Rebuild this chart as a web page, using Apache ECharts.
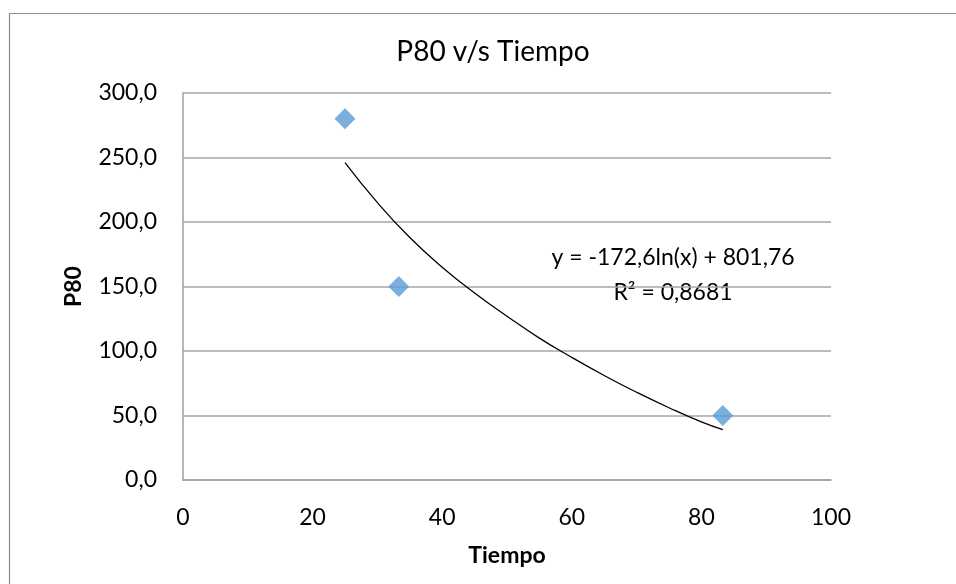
<!DOCTYPE html>
<html>
<head>
<meta charset="utf-8">
<script src="https://cdn.jsdelivr.net/npm/echarts@6/dist/echarts.min.js"></script>
<style>
html,body{margin:0;padding:0;background:#fff;}
#c{width:956px;height:584px;}
</style>
</head>
<body>
<div id="c"></div>
<script>
// Data
var tiempo = [25, 33.3, 83.3];
var p80 = [280, 150, 50];
// Trendline (logarithmic)
var trendX = [25, 30, 35, 40, 45, 50, 55, 60, 65, 70, 75, 80, 83.3];
var trendY = [246, 215, 188, 165, 145, 127, 110, 95, 81, 68, 56, 45, 39];
var xTicks = [0, 20, 40, 60, 80, 100];
var yTicks = [0, 50, 100, 150, 200, 250, 300];
var titleText = 'P80 v/s Tiempo';
var eqText = 'y = -172,6ln(x) + 801,76';
var r2Text = 'R² = 0,8681';

var FONT = 'Lato';
var chart = echarts.init(document.getElementById('c'), null, {renderer: 'canvas'});
chart.setOption({
  animation: false,
  backgroundColor: '#ffffff',
  title: {
    text: titleText,
    left: 488, top: 33,
    textAlign: 'center',
    textStyle: {fontFamily: FONT, fontSize: 28, fontWeight: 'normal', color: '#000'}
  },
  grid: {left: 183, right: 125, top: 93, bottom: 104, containLabel: false},
  xAxis: {
    type: 'value', min: xTicks[0], max: xTicks[xTicks.length - 1], interval: 20,
    name: 'Tiempo', nameLocation: 'middle', nameGap: 64,
    nameTextStyle: {fontFamily: FONT, fontSize: 23, fontWeight: 'bold', color: '#000'},
    axisLine: {show: true, lineStyle: {color: '#a0a0a0', width: 1.5}},
    axisTick: {show: false},
    splitLine: {show: false},
    axisLabel: {fontFamily: FONT, fontSize: 23, color: '#000', margin: 26}
  },
  yAxis: {
    type: 'value', min: yTicks[0], max: yTicks[yTicks.length - 1], interval: 50,
    name: 'P80', nameLocation: 'middle', nameGap: 98, nameRotate: 90,
    nameTextStyle: {fontFamily: FONT, fontSize: 23, fontWeight: 'bold', color: '#000'},
    axisLine: {show: true, lineStyle: {color: '#a0a0a0', width: 1.5}},
    axisTick: {show: false},
    splitLine: {show: true, lineStyle: {color: '#a6a6a6', width: 1.5}},
    axisLabel: {fontFamily: FONT, fontSize: 23, color: '#000', margin: 26,
      formatter: function (v) { return v.toFixed(1).replace('.', ','); }}
  },
  series: [
    {
      type: 'line', data: trendX.map(function (x, i) { return [x, trendY[i]]; }),
      smooth: true, showSymbol: false, symbol: 'none',
      lineStyle: {color: '#000', width: 1.3}, z: 2
    },
    {
      type: 'scatter', data: tiempo.map(function (x, i) { return [x, p80[i]]; }),
      symbol: 'diamond', symbolSize: [21, 21],
      itemStyle: {color: '#5b9bd5'}, z: 3
    }
  ],
  graphic: [
    {type: 'rect', left: 7, top: 11, shape: {width: 1000, height: 620},
     style: {fill: 'none', stroke: '#8c8c8c', lineWidth: 1.2}, silent: true, z: -10},
    {type: 'text', x: 673, y: 258, style: {text: eqText, align: 'center', verticalAlign: 'middle',
     font: '23px Lato', fill: '#000'}},
    {type: 'text', x: 673, y: 293, style: {text: r2Text, align: 'center', verticalAlign: 'middle',
     font: '23px Lato', fill: '#000'}}
  ]
});
</script>
</body>
</html>
